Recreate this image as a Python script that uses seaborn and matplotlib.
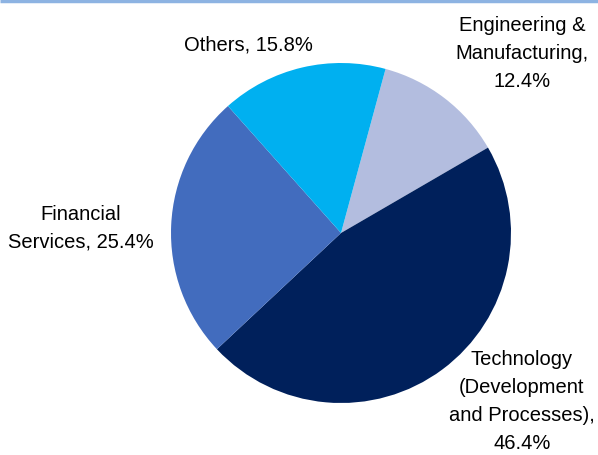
import matplotlib
matplotlib.use("Agg")
import matplotlib.pyplot as plt
import seaborn as sns

sectors = ["Engineering &\nManufacturing,", "Technology\n(Development\nand Processes),",
           "Financial\nServices,", "Others,"]
shares = [12.4, 46.4, 25.4, 15.8]
colors = ["#B3BDDF", "#00205B", "#426CBE", "#00B0F0"]

sns.set_theme(style="white")
plt.rcParams["font.family"] = ["Liberation Sans", "DejaVu Sans"]

fig = plt.figure(figsize=(5.98, 4.56), dpi=100)
ax = fig.add_axes([0, 0, 1, 1])

ax.pie(shares, colors=colors, startangle=74.8, counterclock=False,
       center=(341, 222), radius=170, wedgeprops=dict(linewidth=0),
       frame=True)
ax.set_xlim(0, 598)
ax.set_ylim(0, 456)
ax.axis("off")

# label text, one per sector
label_pos = [(522, 403), (522, 54), (81, 228), (248, 411)]
for (x, y), name, val in zip(label_pos, sectors, shares):
    sep = " " if name in ("Others,",) or name.startswith("Financial") else "\n"
    txt = f"{name}{sep}{val:.1f}%"
    ax.text(x, y, txt, ha="center", va="center", fontsize=14.5, color="#000000",
            linespacing=1.6)

# thin rule along the top edge
ax.plot([0, 598], [454.5, 454.5], color="#8DB3E2", linewidth=2.5, solid_capstyle="butt")

fig.savefig("out.png", dpi=100)
